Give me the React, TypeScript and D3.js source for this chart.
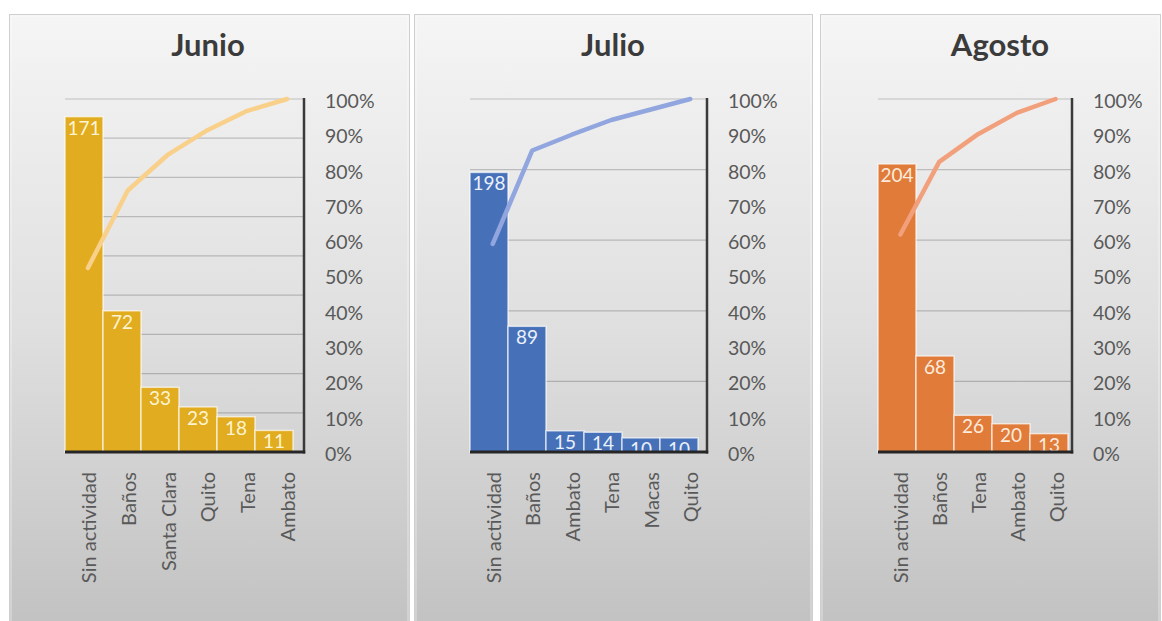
import React from "react";
import * as d3 from "d3";

// ---------- data ----------
const junioCategories = ["Sin actividad", "Baños", "Santa Clara", "Quito", "Tena", "Ambato"];
const junioValues = [171, 72, 33, 23, 18, 11];

const julioCategories = ["Sin actividad", "Baños", "Ambato", "Tena", "Macas", "Quito"];
const julioValues = [198, 89, 15, 14, 10, 10];

const agostoCategories = ["Sin actividad", "Baños", "Tena", "Ambato", "Quito"];
const agostoValues = [204, 68, 26, 20, 13];

const percentTicks = [0, 10, 20, 30, 40, 50, 60, 70, 80, 90, 100];
const titles = ["Junio", "Julio", "Agosto"];
const countAxisMax = [180, 250, 250];
const countAxisStep = [20, 50, 50];

// ---------- layout / style ----------
const W = 1162;
const H = 621;
const Y_TOP = 99;
const Y_BOTTOM = 452;
const FONT = "Lato, 'Open Sans', 'Noto Sans', sans-serif";

type Layout = {
  px0: number;
  px1: number;
  plotLeft: number;
  barEnd: number;
  axisX: number;
  titleX: number;
};

const layouts: Layout[] = [
  { px0: 9.5, px1: 409.5, plotLeft: 65, barEnd: 293, axisX: 304, titleX: 208 },
  { px0: 414.5, px1: 812.5, plotLeft: 470, barEnd: 698, axisX: 707, titleX: 613 },
  { px0: 820.5, px1: 1160.5, plotLeft: 878, barEnd: 1068, axisX: 1072, titleX: 1000 },
];

const styles = [
  { bar: "#E1AC1F", line: "#F9D08A", label: "#FFF4D2" },
  { bar: "#4670B8", line: "#91A6DE", label: "#EAF0FA" },
  { bar: "#E07B3A", line: "#F2A07C", label: "#FDEBDD" },
];

type PanelProps = {
  idx: number;
  title: string;
  cats: string[];
  values: number[];
  yMax: number;
  yStep: number;
  layout: Layout;
  style: { bar: string; line: string; label: string };
};

function ParetoPanel({ idx, title, cats, values, yMax, yStep, layout, style }: PanelProps) {
  const { px0, px1, plotLeft, barEnd, axisX, titleX } = layout;
  const yCount = d3.scaleLinear().domain([0, yMax]).range([Y_BOTTOM, Y_TOP]);
  const yPct = d3.scaleLinear().domain([0, 100]).range([Y_BOTTOM, Y_TOP]);
  const xBar = d3.scaleBand<string>().domain(cats).range([plotLeft, barEnd]).padding(0);
  const xCat = d3.scaleBand<string>().domain(cats).range([plotLeft, axisX]).padding(0);
  const total = d3.sum(values);
  const cumPct = Array.from(d3.cumsum(values)).map((v) => (v / total) * 100);
  const cx = (c: string) => (xCat(c) as number) + xCat.bandwidth() / 2 + 3;
  const lineGen = d3
    .line<number>()
    .x((_, i) => cx(cats[i]))
    .y((d) => yPct(d));
  const gridTicks = d3.range(yStep, yMax + 0.001, yStep);
  const clipId = `plotclip-${idx}`;

  return (
    <g>
      <defs>
        <clipPath id={clipId}>
          <rect x={plotLeft} y={0} width={axisX - plotLeft} height={Y_BOTTOM} />
        </clipPath>
      </defs>
      <rect
        x={px0}
        y={14.5}
        width={px1 - px0}
        height={H + 10}
        fill="url(#panelGrad)"
        stroke="#cfcfcf"
        strokeWidth={1}
      />
      <rect
        x={px0 + 1.5}
        y={16}
        width={px1 - px0 - 3}
        height={H + 10}
        fill="none"
        stroke="#ffffff"
        strokeOpacity={0.5}
        strokeWidth={1}
      />
      <text
        x={titleX}
        y={56}
        textAnchor="middle"
        fontFamily={FONT}
        fontWeight={700}
        fontSize={31}
        fill="#3b3b3b"
      >
        {title}
      </text>

      {gridTicks.map((t) => (
        <line
          key={t}
          x1={plotLeft}
          x2={axisX}
          y1={yCount(t)}
          y2={yCount(t)}
          stroke="#000"
          strokeOpacity={0.2}
          strokeWidth={1.2}
        />
      ))}

      {cats.map((c, i) => (
        <rect
          key={c}
          x={xBar(c) as number}
          y={yCount(values[i])}
          width={xBar.bandwidth()}
          height={Y_BOTTOM - yCount(values[i])}
          fill={style.bar}
          stroke="#ffffff"
          strokeOpacity={0.65}
          strokeWidth={1.5}
        />
      ))}

      <path
        d={lineGen(cumPct) || ""}
        fill="none"
        stroke={style.line}
        strokeWidth={4.5}
        strokeLinejoin="round"
        strokeLinecap="round"
      />

      <g clipPath={`url(#${clipId})`}>
        {cats.map((c, i) => (
          <text
            key={c}
            x={(xBar(c) as number) + xBar.bandwidth() / 2}
            y={yCount(values[i]) + 18}
            textAnchor="middle"
            fontFamily={FONT}
            fontSize={19}
            fill={style.label}
          >
            {values[i]}
          </text>
        ))}
      </g>

      <line x1={axisX} x2={axisX} y1={Y_TOP - 1} y2={Y_BOTTOM + 1.5} stroke="#3a3a3a" strokeWidth={2.5} />
      <line x1={plotLeft} x2={axisX + 1.2} y1={Y_BOTTOM} y2={Y_BOTTOM} stroke="#262626" strokeWidth={3} />

      {percentTicks.map((p) => (
        <text
          key={p}
          x={axisX + 21}
          y={yPct(p) + 4}
          dominantBaseline="middle"
          fontFamily={FONT}
          fontSize={19.5}
          fill="#595959"
        >
          {`${p}%`}
        </text>
      ))}

      {cats.map((c) => (
        <text
          key={c}
          transform={`translate(${cx(c)},${Y_BOTTOM + 20}) rotate(-90)`}
          textAnchor="end"
          dominantBaseline="central"
          fontFamily={FONT}
          fontSize={20}
          fill="#595959"
        >
          {c}
        </text>
      ))}
    </g>
  );
}

export default function App() {
  const panels = [
    { cats: junioCategories, values: junioValues },
    { cats: julioCategories, values: julioValues },
    { cats: agostoCategories, values: agostoValues },
  ];
  return (
    <svg
      width={W}
      height={H}
      viewBox={`0 0 ${W} ${H}`}
      style={{ position: "absolute", left: 0, top: 0, background: "#ffffff" }}
    >
      <defs>
        <linearGradient id="panelGrad" x1="0" y1="0" x2="0" y2="1">
          <stop offset="0" stopColor="#f5f5f5" />
          <stop offset="0.5" stopColor="#dfdfdf" />
          <stop offset="1" stopColor="#c0c0c0" />
        </linearGradient>
      </defs>
      <rect x={0} y={0} width={W} height={H} fill="#ffffff" />
      {panels.map((p, i) => (
        <ParetoPanel
          key={titles[i]}
          idx={i}
          title={titles[i]}
          cats={p.cats}
          values={p.values}
          yMax={countAxisMax[i]}
          yStep={countAxisStep[i]}
          layout={layouts[i]}
          style={styles[i]}
        />
      ))}
    </svg>
  );
}
